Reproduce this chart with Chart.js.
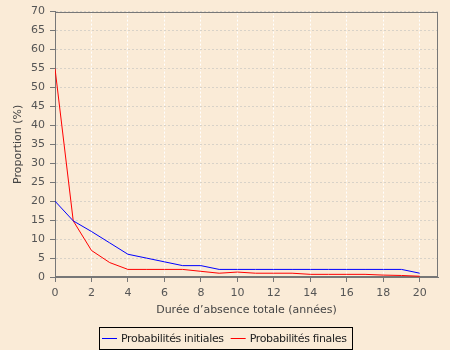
<!DOCTYPE html>
<html>
<head>
<meta charset="utf-8">
<script src="https://cdn.jsdelivr.net/npm/chart.js@4"></script>
<style>
  html, body { margin: 0; padding: 0; background: #faebd7; }
  #wrap { width: 450px; height: 350px; }
</style>
</head>
<body>
<div id="wrap"><canvas id="chart" width="450" height="350"></canvas></div>
<script>
// data
const years = [0, 1, 2, 3, 4, 5, 6, 7, 8, 9, 10, 11, 12, 13, 14, 15, 16, 17, 18, 19, 20];
const initialProbs = [20, 14.8, 12, 9, 6, 5, 4, 3, 3, 2, 2, 2, 2, 2, 2, 2, 2, 2, 2, 2, 1];
const finalProbs = [55, 14.8, 7, 3.8, 2, 2, 2, 2, 1.5, 1, 1.3, 1, 1, 1, 0.7, 0.7, 0.7, 0.7, 0.5, 0.4, 0.2];
const seriesNames = ['Probabilités initiales', 'Probabilités finales'];
const xTitle = 'Durée d’absence totale (années)';
const yTitle = 'Proportion (%)';
const xMax = 21, xStep = 2;
const yMax = 70, yStep = 5;

const font = 'DejaVu Sans';
const toPoints = (vals) => years.map((yr, i) => ({ x: yr, y: vals[i] }));

// frame round the plot area
const plotFrame = {
  id: 'plotFrame',
  beforeDatasetsDraw(chart) {
    const { ctx, chartArea: a } = chart;
    ctx.save();
    ctx.strokeStyle = '#777';
    ctx.lineWidth = 1;
    ctx.strokeRect(Math.round(a.left) + 0.5, Math.round(a.top) + 0.5,
      Math.round(a.right - a.left) - 1, Math.round(a.bottom - a.top) - 1);
    ctx.restore();
  }
};

// boxed legend under the x axis title, built from the datasets
const boxedLegend = {
  id: 'boxedLegend',
  afterDraw(chart) {
    const ctx = chart.ctx;
    const sets = chart.data.datasets;
    ctx.save();
    ctx.font = '11px "' + font + '"';
    ctx.letterSpacing = '-0.35px';
    const lineLen = 15, gap = 4, itemGap = 7, marginL = 3, marginR = 5;
    const widths = sets.map((ds) => ctx.measureText(ds.label).width);
    let total = marginL + marginR;
    widths.forEach((w, i) => { total += lineLen + gap + w + (i ? itemGap : 0); });
    const left = Math.round(225.5 - total / 2);
    const top = 327, h = 22;
    ctx.strokeStyle = '#000';
    ctx.lineWidth = 1;
    ctx.strokeRect(left + 0.5, top + 0.5, Math.round(total), h);
    let x = left + marginL;
    const midY = top + 11.5;
    ctx.textBaseline = 'middle';
    sets.forEach((ds, i) => {
      ctx.strokeStyle = ds.borderColor;
      ctx.beginPath();
      ctx.moveTo(x, midY);
      ctx.lineTo(x + lineLen, midY);
      ctx.stroke();
      x += lineLen + gap;
      ctx.fillStyle = '#222';
      ctx.fillText(ds.label, x, midY + 0.5);
      x += widths[i] + itemGap;
    });
    ctx.restore();
  }
};

new Chart(document.querySelector('#chart'), {
  type: 'line',
  data: {
    datasets: [
      {
        label: seriesNames[0],
        data: toPoints(initialProbs),
        borderColor: '#0000ff',
        backgroundColor: '#0000ff',
        borderWidth: 1,
        pointRadius: 0,
        tension: 0
      },
      {
        label: seriesNames[1],
        data: toPoints(finalProbs),
        borderColor: '#ff0000',
        backgroundColor: '#ff0000',
        borderWidth: 1,
        pointRadius: 0,
        tension: 0
      }
    ]
  },
  plugins: [plotFrame, boxedLegend],
  options: {
    responsive: false,
    animation: false,
    devicePixelRatio: 1,
    layout: { padding: { top: 10, right: 0, left: 0, bottom: 23 } },
    plugins: {
      tooltip: { enabled: false },
      legend: { display: false }
    },
    scales: {
      x: {
        type: 'linear',
        min: 0,
        max: xMax,
        ticks: {
          stepSize: xStep,
          includeBounds: false,
          color: '#555',
          padding: 5,
          font: { family: font, size: 11 }
        },
        grid: {
          color: '#ffffff',
          tickColor: '#777',
          tickLength: 5,
          tickBorderDash: []
        },
        border: { color: '#777', dash: [2, 2] },
        title: {
          display: true,
          text: xTitle,
          color: '#444',
          font: { family: font, size: 11 },
          padding: { top: 4, bottom: 10 }
        },
        afterFit: (scale) => { scale.height = 50; }
      },
      y: {
        min: 0,
        max: yMax,
        ticks: {
          stepSize: yStep,
          color: '#555',
          padding: 5,
          font: { family: font, size: 11 }
        },
        grid: {
          color: '#d8d2c8',
          tickColor: '#777',
          tickLength: 5,
          tickBorderDash: []
        },
        border: { color: '#777', dash: [2, 2] },
        title: {
          display: true,
          text: yTitle,
          color: '#444',
          font: { family: font, size: 11 },
          padding: { top: 12, bottom: 4 }
        },
        afterFit: (scale) => { scale.width = 55; }
      },
      yRight: {
        position: 'right',
        display: true,
        grid: { display: false, drawTicks: false },
        border: { display: false },
        ticks: { display: false },
        afterFit: (scale) => { scale.width = 12; }
      }
    }
  }
});
</script>
</body>
</html>
